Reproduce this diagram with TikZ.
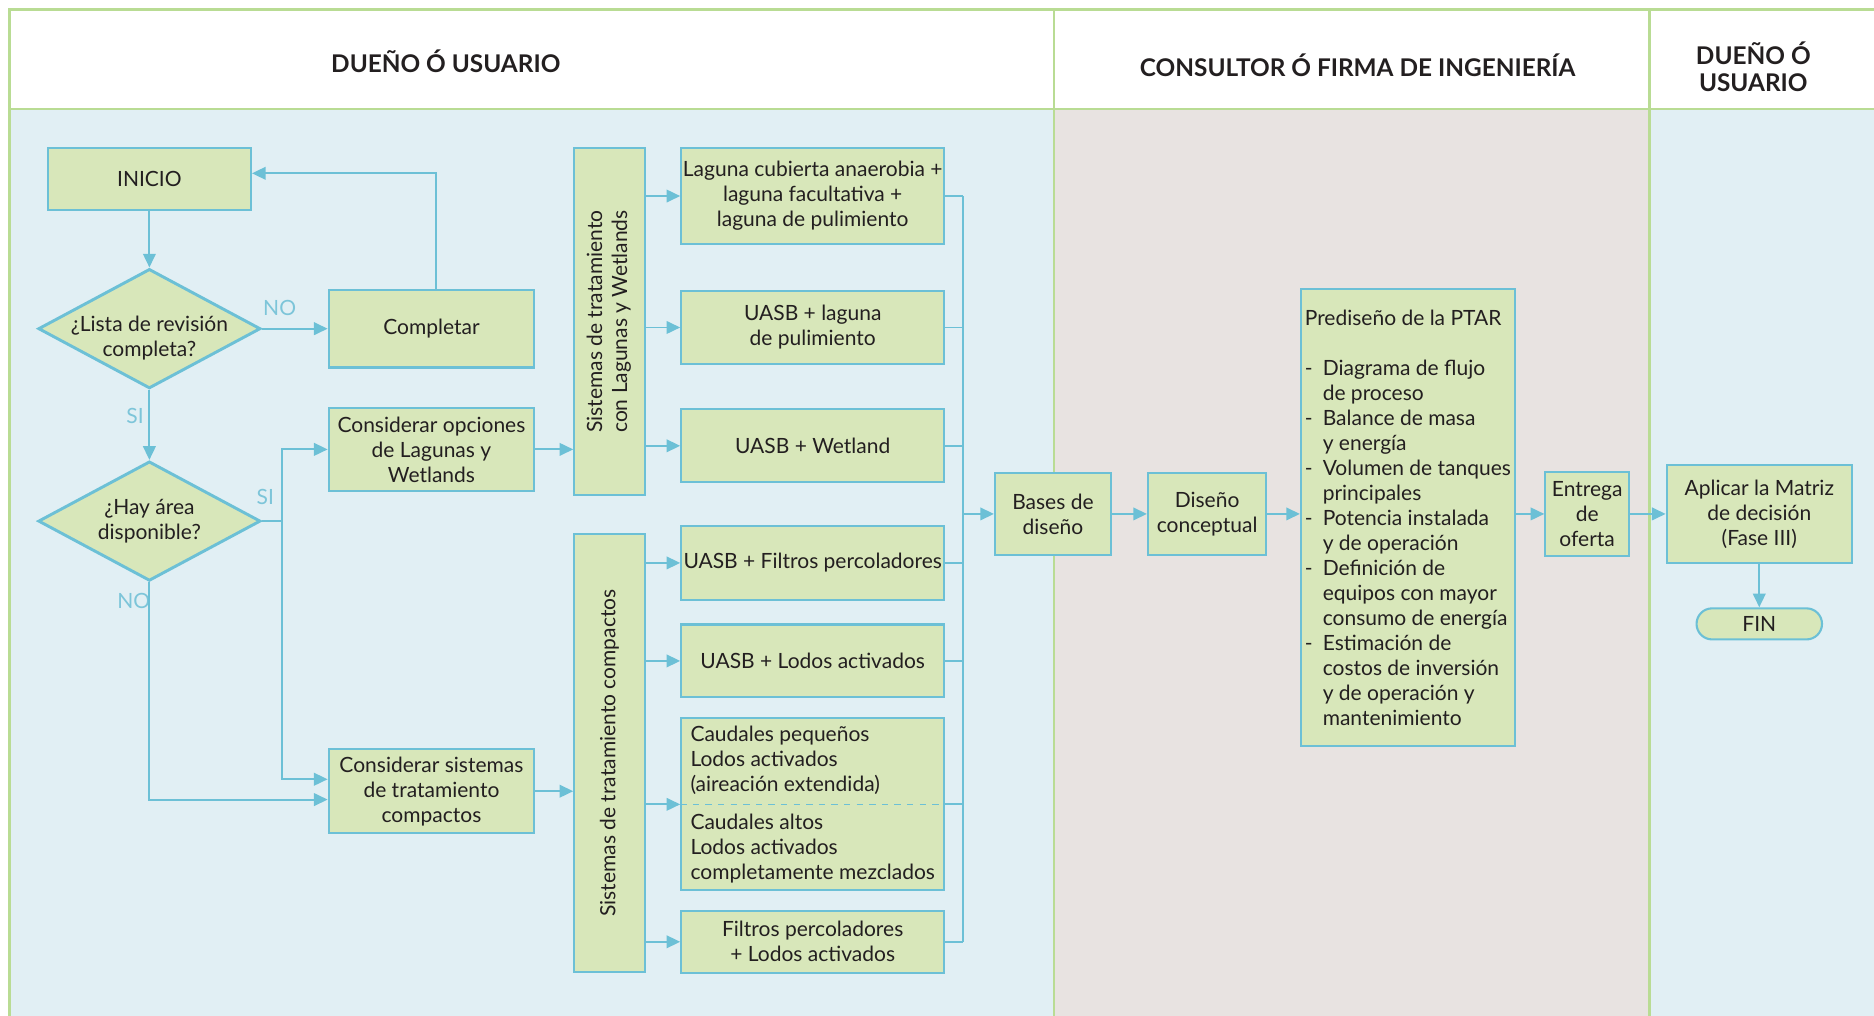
\documentclass[tikz,border=0pt]{standalone}
\usepackage{fontspec}
\usepackage{graphicx}
\setmainfont{Lato}
\usetikzlibrary{shapes.geometric,arrows.meta}

\definecolor{boxfill}{HTML}{D8E7BA}
\definecolor{edge}{HTML}{6CC0D6}
\definecolor{lanebg}{HTML}{E1EFF4}
\definecolor{lanegray}{HTML}{E8E3E1}
\definecolor{frame}{HTML}{B9DC94}
\definecolor{lblc}{HTML}{7DC5D9}
\definecolor{txt}{HTML}{231F20}

\newcommand{\itm}[1]{\makebox[0.3cm][l]{-}#1}
\newcommand{\cnt}{\hspace*{0.3cm}}

\begin{document}
\begin{tikzpicture}[x=0.02cm,y=-0.02cm,
    box/.style={draw=edge,fill=boxfill,line width=1pt,align=center,inner sep=0pt,text=txt,font=\fontsize{10}{11.9}\selectfont},
    opt/.style={box,minimum width=4.4cm},
    dec/.style={diamond,draw=edge,fill=boxfill,line width=1.4pt,inner sep=0pt,minimum width=3.72cm,minimum height=2cm},
    qtext/.style={align=center,text=txt,font=\fontsize{10}{11.9}\selectfont},
    arr/.style={draw=edge,line width=0.9pt,-{Triangle[length=6.5pt,width=6pt]}},
    link/.style={draw=edge,line width=0.9pt},
    lbl/.style={text=lblc,font=\fontsize{10}{12}\selectfont},
    head/.style={align=center,text=txt,font=\bfseries\fontsize{11.6}{13}\selectfont}]

    \useasboundingbox (0,0) rectangle (1568,850);

    % lanes
    \fill[lanebg] (8,91) rectangle (882,850);
    \fill[lanegray] (882,91) rectangle (1380,850);
    \fill[lanebg] (1380,91) rectangle (1568,850);
    \draw[frame,line width=1.2pt] (1568,8) -- (8,8) -- (8,850) (8,91) -- (1568,91)
        (882,8) -- (882,850) (1380,8) -- (1380,850);

    \node (h1) at (373,51) [head] {DUEÑO Ó USUARIO};
    \node (h2) at (1136,55) [head] {CONSULTOR Ó FIRMA DE INGENIERÍA};
    \node (h3) at (1467,56) [head] {DUEÑO Ó\\USUARIO};

    % decision part
    \node (ini) at (125,150) [box,minimum width=3.4cm,minimum height=1.04cm] {INICIO};
    \node (d1) at (125,275) [dec,label={[qtext,yshift=-0.16cm]center:{¿Lista de revisión\\completa?}}] {};
    \node (comp) at (361,275) [box,minimum width=3.44cm,minimum height=1.3cm] {Completar};
    \node (d2) at (125,436) [dec,label={[qtext]center:{¿Hay área\\disponible?}}] {};
    \node (opl) at (361,376) [box,minimum width=3.44cm,minimum height=1.4cm] {Considerar opciones\\de Lagunas y\\Wetlands};
    \node (cst) at (361,662) [box,minimum width=3.44cm,minimum height=1.4cm] {Considerar sistemas\\de tratamiento\\compactos};

    \node (no1) at (234,258) [lbl] {NO};
    \node (si1) at (113,348) [lbl] {SI};
    \node (si2) at (222,416) [lbl] {SI};
    \node (no2) at (112,503) [lbl] {NO};

    % systems
    \node (v1) at (510,269) [box,minimum width=1.18cm,minimum height=5.8cm]
        {\rotatebox{90}{\begin{tabular}{@{}c@{}}Sistemas de tratamiento\\con Lagunas y Wetlands\end{tabular}}};
    \node (v2) at (510,630) [box,minimum width=1.18cm,minimum height=7.34cm]
        {\rotatebox{90}{Sistemas de tratamiento compactos}};

    \node (o1) at (680,164) [opt,minimum height=1.62cm] {Laguna cubierta anaerobia +\\laguna facultativa +\\laguna de pulimiento};
    \node (o2) at (680,274) [opt,minimum height=1.22cm] {UASB + laguna\\de pulimiento};
    \node (o3) at (680,373) [opt,minimum height=1.22cm] {UASB + Wetland};
    \node (o4) at (680,471) [opt,minimum height=1.24cm] {UASB + Filtros percoladores};
    \node (o5) at (680,553) [opt,minimum height=1.22cm] {UASB + Lodos activados};
    \node (o6) at (680,673) [opt,minimum height=2.88cm,align=left]
        {Caudales pequeños\\Lodos activados\\(aireación extendida)\\[0.22cm]Caudales altos\\Lodos activados\\completamente mezclados};
    \node (o7) at (680,788) [opt,minimum height=1.04cm] {Filtros percoladores\\+ Lodos activados};
    \draw[edge,dashed,line width=0.8pt] (o6.west) -- (o6.east);

    \coordinate (bus) at (806,430);

    % design part
    \node (bas) at (881,430) [box,minimum width=1.94cm,minimum height=1.38cm] {Bases de\\diseño};
    \node (dis) at (1010,430) [box,minimum width=1.98cm,minimum height=1.38cm] {Diseño\\conceptual};
    \node (pre) at (1178,433) [box,align=left,minimum width=3.58cm,minimum height=7.64cm,text depth=-0.1cm]
        {Prediseño de la PTAR\\[11.9pt]
         \itm{Diagrama de flujo}\\\cnt de proceso\\
         \itm{Balance de masa}\\\cnt y energía\\
         \itm{Volumen de tanques}\\\cnt principales\\
         \itm{Potencia instalada}\\\cnt y de operación\\
         \itm{Definición de}\\\cnt equipos con mayor\\\cnt consumo de energía\\
         \itm{Estimación de}\\\cnt costos de inversión\\\cnt y de operación y\\\cnt mantenimiento};
    \node (ent) at (1328,430) [box,minimum width=1.4cm,minimum height=1.4cm] {Entrega\\de\\oferta};
    \node (apl) at (1472,430) [box,minimum width=3.1cm,minimum height=1.64cm] {Aplicar la Matriz\\de decisión\\(Fase III)};
    \node (fin) at (1472,522) [box,rounded corners=0.26cm,minimum width=2.1cm,minimum height=0.52cm] {FIN};

    % connectors
    \draw[arr] (ini) -- (d1);
    \draw[arr] (d1) -- (comp);
    \draw[arr] ([xshift=0.08cm]comp.north) |- ([yshift=0.1cm]ini.east);
    \draw[arr] (d1) -- (d2);
    \coordinate (sp) at (236,436);
    \draw[link] (d2.east) -- (sp);
    \draw[arr] (sp) |- (opl.west);
    \draw[arr] (sp) |- ([yshift=0.2cm]cst.west);
    \draw[arr] (d2.south) |- ([yshift=-0.14cm]cst.west);
    \draw[arr] (opl.east) -- (opl.east -| v1.west);
    \draw[arr] (cst.east) -- (cst.east -| v2.west);
    \foreach \i in {1,2,3} \draw[arr] (v1.east |- o\i.west) -- (o\i.west);
    \foreach \i in {4,...,7} \draw[arr] (v2.east |- o\i.west) -- (o\i.west);
    \foreach \i in {1,...,7} \draw[link] (o\i.east) -- (o\i.east -| bus);
    \draw[link] (o1.east -| bus) -- (o7.east -| bus);
    \draw[arr] (bus) -- (bas);
    \draw[arr] (bas) -- (dis);
    \draw[arr] (dis.east) -- (dis.east -| pre.west);
    \draw[arr] (ent.west -| pre.east) -- (ent.west);
    \draw[arr] (ent) -- (apl);
    \draw[arr] (apl) -- (fin);

\end{tikzpicture}
\end{document}
